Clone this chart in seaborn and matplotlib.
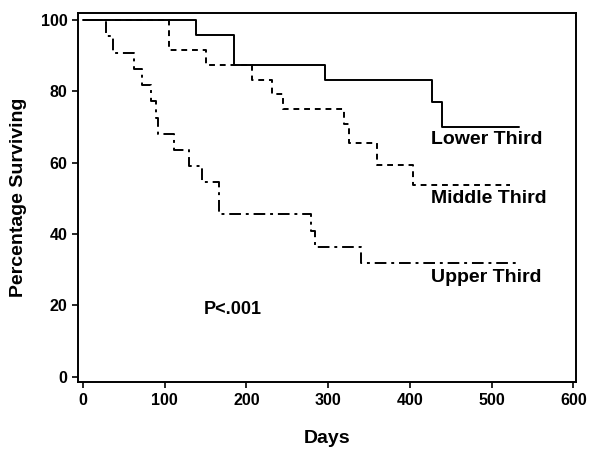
import matplotlib
matplotlib.use("Agg")
import matplotlib.pyplot as plt
import seaborn as sns
import pandas as pd

# Kaplan-Meier step curves (day of step, survival % after step)
lower_days = [0, 139, 185, 296, 427, 439, 533]
lower_surv = [100, 95.8, 87.5, 83.3, 77.0, 70.0, 70.0]

middle_days = [0, 106, 151, 207, 232, 245, 320, 326, 360, 404, 523]
middle_surv = [100, 91.7, 87.5, 83.3, 79.2, 75.0, 70.8, 65.5, 59.5, 53.8, 53.8]

upper_days = [0, 28, 37, 63, 73, 84, 90, 92, 112, 130, 146, 166, 279, 284, 340, 533]
upper_surv = [100, 95.5, 90.9, 86.4, 81.8, 77.3, 72.7, 68.2, 63.6, 59.1, 54.5,
              45.5, 40.9, 36.4, 31.8, 31.8]

group_labels = ["Lower Third", "Middle Third", "Upper Third"]
x_ticks = [0, 100, 200, 300, 400, 500, 600]
y_ticks = [0, 20, 40, 60, 80, 100]
p_text = "P<.001"

sns.set_theme(style="white")
plt.rcParams["font.family"] = ["Liberation Sans", "DejaVu Sans"]
plt.rcParams["font.weight"] = "bold"
plt.rcParams["text.color"] = "black"

fig = plt.figure(figsize=(5.9, 4.49), dpi=100)
ax = fig.add_axes([0.132, 0.149, 0.844, 0.822])

styles = ["-", (0, (3, 2.5)), (0, (6, 2.5, 1.5, 2.5))]
for days, surv, ls in zip([lower_days, middle_days, upper_days],
                          [lower_surv, middle_surv, upper_surv], styles):
    df = pd.DataFrame({"day": days, "surv": surv})
    sns.lineplot(data=df, x="day", y="surv", ax=ax, color="black",
                 linewidth=1.4, linestyle=ls, drawstyle="steps-post",
                 sort=False, estimator=None)

ax.text(426, 66.4, group_labels[0], fontsize=14, fontweight="bold", va="center", color="black")
ax.text(426, 50.1, group_labels[1], fontsize=14, fontweight="bold", va="center", color="black")
ax.text(426, 27.7, group_labels[2], fontsize=14, fontweight="bold", va="center", color="black")
ax.text(148, 18.8, p_text, fontsize=13, fontweight="bold", va="center", color="black")

ax.set_xlim(-6, 603)
ax.set_ylim(-1.5, 102)
ax.set_xticks(x_ticks)
ax.set_yticks(y_ticks)
ax.tick_params(axis="both", direction="out", length=4, width=1.2, labelsize=11.5,
               color="black", labelcolor="black", bottom=True, left=True)
for lab in ax.get_xticklabels() + ax.get_yticklabels():
    lab.set_fontweight("bold")
for sp in ax.spines.values():
    sp.set_color("black")
    sp.set_linewidth(1.4)
ax.set_xlabel("Days", fontsize=14, fontweight="bold", color="black", labelpad=16)
ax.set_ylabel("Percentage Surviving", fontsize=14, fontweight="bold", color="black", labelpad=10)

fig.savefig("out.png", dpi=100, facecolor="white")
